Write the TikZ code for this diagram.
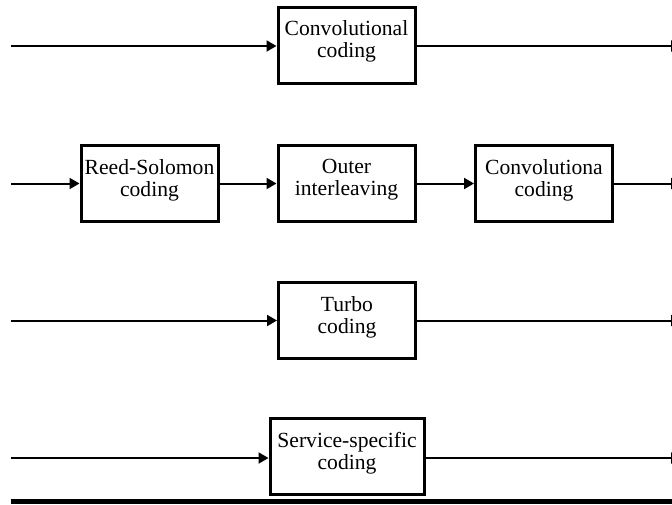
\documentclass[tikz,border=0pt]{standalone}
\usepackage{fontspec}
\setmainfont{Liberation Serif}
\usetikzlibrary{arrows.meta}
\begin{document}
\begin{tikzpicture}[x=0.5pt,y=-0.5pt,
  blk/.style={draw, line width=1.5pt, minimum width=68.5pt, minimum height=38pt, inner sep=0pt},
  wideblk/.style={blk, minimum width=77pt},
  txt/.style={align=center, font=\fontsize{10.8}{11}\selectfont, inner sep=0pt, anchor=north, yshift=-7.5pt},
  flow/.style={line width=1pt, -{Triangle[length=5pt,width=5.5pt]}}]
\useasboundingbox (0,0) rectangle (672,504);
\clip (0,0) rectangle (672,504);

% chain 1: convolutional coding
\node[blk, label={[txt, name=cct]north:Convolutional\\coding}] (cc) at (346.5,45) {};
\coordinate (in1) at (11,46);
\coordinate (out1) at (681,46);
\draw[flow] (in1) -- (cc.west |- in1);
\draw[flow] (cc.east |- out1) -- (out1);

% chain 2: Reed-Solomon, outer interleaving, convolutional coding
\node[blk, label={[txt, name=rst]north:Reed-Solomon\\coding}] (rs) at (149.5,183.5) {};
\node[blk, label={[txt, name=olt]north:Outer\\interleaving}] (ol) at (346.5,183.5) {};
\node[blk, label={[txt, name=cvt]north:Convolutiona\\coding}] (cv) at (544,183.5) {};
\coordinate (in2) at (11,183.5);
\coordinate (out2) at (681,183.5);
\draw[flow] (in2) -- (rs.west);
\draw[flow] (rs.east) -- (ol.west);
\draw[flow] (ol.east) -- (cv.west);
\draw[flow] (cv.east) -- (out2);

% chain 3: turbo coding
\node[blk, label={[txt, name=tbt]north:Turbo\\coding}] (tb) at (347,320.5) {};
\coordinate (in3) at (11,320.5);
\coordinate (out3) at (681,320.5);
\draw[flow] (in3) -- (tb.west);
\draw[flow] (tb.east) -- (out3);

% chain 4: service-specific coding
\node[wideblk, label={[txt, name=sst]north:Service-specific\\coding}] (ss) at (347,456.5) {};
\coordinate (in4) at (11,458);
\coordinate (out4) at (681,458);
\draw[flow] (in4) -- (ss.west |- in4);
\draw[flow] (ss.east |- out4) -- (out4);

% base rule
\fill (11,499) rectangle (672,504);
\end{tikzpicture}
\end{document}
